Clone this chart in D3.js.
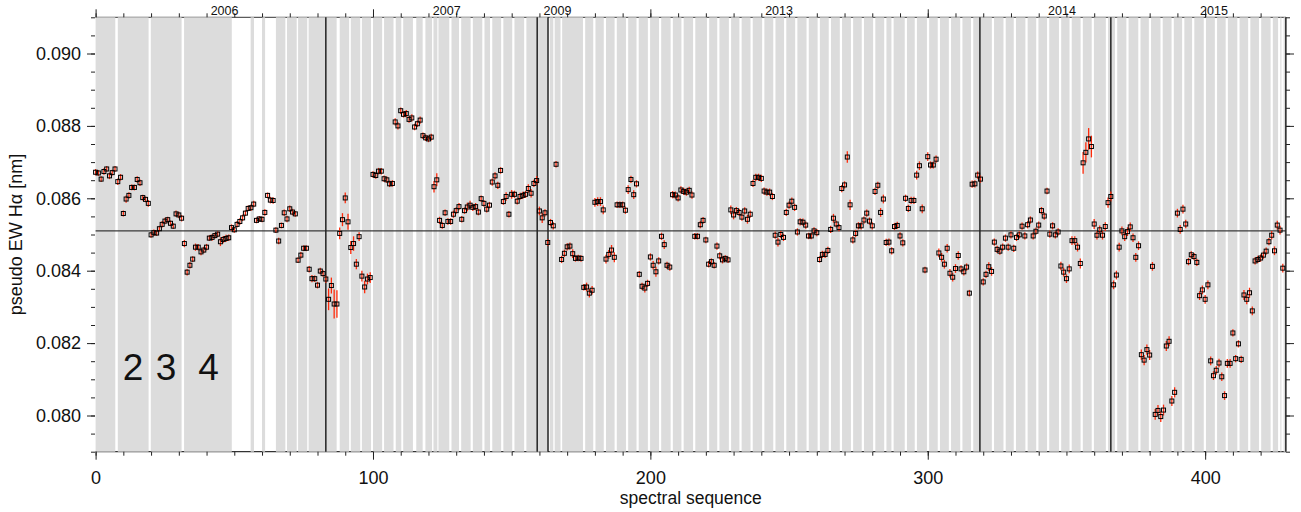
<!DOCTYPE html>
<html><head><meta charset="utf-8">
<script src="https://cdn.jsdelivr.net/npm/d3@7"></script>
<style>
body{margin:0;background:#fff;}
text{font-family:"Liberation Sans",Arial,Helvetica,sans-serif;fill:#111;}
</style></head><body>
<svg id="c" width="1301" height="512"></svg>
<script>
// pseudo equivalent width of H-alpha [nm], one value per spectrum (index = spectral sequence)
const ew = [
0.08672,0.08670,0.08653,0.08674,0.08681,0.08662,0.08671,0.08681,0.08646,0.08658,
0.08558,0.08598,0.08608,0.08630,0.08630,0.08652,0.08643,0.08602,0.08597,0.08586,
0.08499,0.08505,0.08504,0.08516,0.08528,0.08537,0.08541,0.08531,0.08523,0.08557,
0.08554,0.08545,0.08475,0.08396,0.08415,0.08432,0.08465,0.08465,0.08452,0.08457,
0.08465,0.08490,0.08492,0.08497,0.08501,0.08480,0.08486,0.08489,0.08491,0.08519,
0.08513,0.08528,0.08536,0.08546,0.08559,0.08572,0.08574,0.08584,0.08539,0.08543,
0.08542,0.08561,0.08608,0.08595,0.08594,0.08512,0.08482,0.08525,0.08560,0.08543,
0.08571,0.08562,0.08557,0.08429,0.08443,0.08462,0.08462,0.08404,0.08378,0.08378,
0.08360,0.08399,0.08392,0.08377,0.08321,0.08359,0.08308,0.08308,0.08503,0.08541,
0.08601,0.08535,0.08464,0.08475,0.08418,0.08494,0.08385,0.08355,0.08377,0.08381,
0.08666,0.08663,0.08675,0.08675,0.08654,0.08651,0.08640,0.08641,0.08811,0.08800,
0.08842,0.08832,0.08834,0.08818,0.08822,0.08797,0.08806,0.08816,0.08773,0.08767,
0.08764,0.08769,0.08632,0.08651,0.08539,0.08525,0.08560,0.08536,0.08536,0.08556,
0.08566,0.08577,0.08542,0.08566,0.08576,0.08581,0.08575,0.08577,0.08562,0.08599,
0.08586,0.08570,0.08581,0.08645,0.08662,0.08636,0.08677,0.08591,0.08605,0.08556,
0.08611,0.08611,0.08592,0.08605,0.08608,0.08611,0.08627,0.08614,0.08641,0.08649,
0.08565,0.08546,0.08560,0.08478,0.08533,0.08524,0.08694,null,0.08431,0.08448,
0.08466,0.08468,0.08447,0.08434,0.08435,0.08434,0.08354,0.08355,0.08338,0.08346,
0.08589,0.08591,0.08591,0.08568,0.08432,0.08445,0.08457,0.08437,0.08582,0.08582,
0.08582,0.08567,0.08624,0.08652,0.08610,0.08640,0.08390,0.08357,0.08352,0.08365,
0.08438,0.08415,0.08397,0.08427,0.08495,0.08472,0.08415,0.08410,0.08610,0.08609,
0.08601,0.08623,0.08619,0.08617,0.08622,0.08609,0.08495,0.08495,0.08527,0.08539,
0.08485,0.08418,0.08425,0.08415,0.08468,0.08441,0.08430,0.08434,0.08430,0.08568,
0.08554,0.08566,0.08561,0.08548,0.08565,0.08542,0.08556,0.08641,0.08658,0.08658,
0.08655,0.08620,0.08617,0.08617,0.08605,0.08498,0.08479,0.08500,0.08492,0.08561,
0.08581,0.08592,0.08575,0.08507,0.08535,0.08534,0.08526,0.08496,0.08496,0.08510,
0.08505,0.08431,0.08445,0.08445,0.08456,0.08514,0.08545,0.08529,0.08519,0.08627,
0.08637,0.08714,0.08582,0.08485,0.08503,0.08524,0.08524,0.08540,0.08559,0.08537,
0.08524,0.08619,0.08636,0.08561,0.08598,0.08478,0.08479,0.08455,0.08522,0.08525,
0.08496,0.08477,0.08600,0.08572,0.08594,0.08594,0.08664,0.08690,0.08571,0.08402,
0.08715,0.08692,0.08692,0.08708,0.08449,0.08437,0.08418,0.08462,0.08393,0.08382,
0.08406,0.08442,0.08405,0.08397,0.08410,0.08338,0.08639,0.08640,0.08664,0.08653,
0.08369,0.08390,0.08411,0.08398,0.08479,0.08459,0.08454,0.08465,0.08490,0.08465,
0.08499,0.08462,0.08492,0.08499,0.08523,0.08496,0.08527,0.08540,0.08496,0.08509,
0.08526,0.08566,0.08551,0.08620,0.08501,0.08524,0.08499,0.08507,0.08413,0.08396,
0.08378,0.08405,0.08483,0.08483,0.08465,0.08420,0.08698,0.08727,0.08764,0.08743,
0.08529,0.08498,0.08513,0.08498,0.08522,0.08588,0.08605,0.08361,0.08388,0.08465,
0.08510,0.08494,0.08508,0.08521,0.08491,0.08437,0.08469,0.08168,0.08153,0.08182,
0.08167,0.08412,0.08003,0.08014,0.07997,0.08015,0.08192,0.08205,0.08040,0.08064,
0.08559,0.08514,0.08570,0.08529,0.08425,0.08444,0.08439,0.08423,0.08331,0.08347,
0.08321,0.08361,0.08151,0.08110,0.08125,0.08145,0.08107,0.08055,0.08144,0.08144,
0.08228,0.08157,0.08198,0.08155,0.08333,0.08321,0.08339,0.08289,0.08427,0.08431,
0.08435,0.08443,0.08454,0.08480,0.08498,0.08455,0.08526,0.08512,0.08407
];
// 1-sigma uncertainties, in units of 1e-5 nm
const ewErr = [
9,8,8,9,8,9,8,8,9,9, 8,10,9,8,8,9,9,8,8,9, 8,9,8,8,9,9,8,8,8,9, 9,9,10,9,9,8,10,9,9,9,
9,8,9,8,8,12,10,10,9,9, 8,9,9,9,8,8,9,9,8,8, 8,9,8,9,9,8,9,8,9,9, 9,9,8,8,9,8,8,9,10,9,
9,9,9,10,30,22,40,38,16,18, 15,22,18,20,14,12,15,17,15,15, 9,9,9,9,9,9,9,9,10,10, 9,9,10,9,10,9,9,10,9,9,
9,9,16,18,10,9,9,9,9,10, 9,10,9,9,12,12,10,10,9,9, 9,9,9,10,10,10,9,9,12,9, 12,10,9,10,10,10,12,12,10,12,
12,14,10,9,10,10,9,0,10,10, 10,10,12,9,9,9,9,12,12,12, 12,12,12,12,12,12,14,14,9,9, 9,10,12,10,12,10,9,10,12,10,
10,12,14,10,10,12,10,10,10,10, 10,10,10,10,10,10,9,9,10,9, 9,9,9,9,10,10,10,9,9,12, 12,10,10,10,10,12,10,10,10,10,
10,10,10,10,10,10,12,10,10,10, 10,10,10,10,10,10,10,9,9,10, 10,9,10,10,10,10,12,10,10,10, 10,16,14,10,10,10,10,10,10,10,
10,10,10,12,12,10,10,10,10,10, 10,10,10,10,10,10,12,12,12,9, 12,10,10,10,12,12,12,12,12,12, 12,12,10,10,10,9,10,10,10,10,
10,10,12,12,10,10,10,10,10,10, 10,10,10,10,10,10,10,10,10,10, 10,10,10,9,10,10,10,10,12,12, 12,12,12,12,12,14,30,28,30,30,
14,12,12,12,12,14,14,12,12,12, 12,12,12,12,12,12,12,14,14,14, 14,12,15,15,15,15,14,14,14,14, 12,12,12,12,10,10,10,10,12,12,
12,12,12,12,12,12,12,12,12,12, 10,10,10,10,14,14,14,12,10,10, 10,10,10,10,12,12,12,12,12
];
// observing-block shading (start, end) in spectral-sequence units
const bands = [
[0,7.1],[8.0,19.1],[19.9,31.0],[31.9,49.1],[55.9,57.1],[60.0,61.1],[65.0,68.4],[69.0,72.5],[73.0,76.3],[76.8,83.0],
[83.0,86.9],[88.0,91.4],[92.0,95.4],[96.0,99.3],[100.0,103.3],[104.0,107.4],[108.2,110.2],[110.9,114.4],[115.6,117.9],[118.9,121.3],
[121.8,123.2],[123.6,127.5],[128.3,131.0],[131.8,135.2],[136.0,139.4],[140.2,142.2],[143.0,146.2],[147.0,150.2],[151.0,154.5],[155.3,159.2],
[159.2,163.1],[163.7,165.0],[165.5,167.6],[168.2,175.7],[176.5,179.4],[180.2,183.2],[184.0,187.1],[187.9,191.2],[192.0,195.0],[195.8,199.1],
[199.9,203.1],[203.9,207.3],[208.1,211.2],[212.0,215.4],[216.2,220.4],[221.2,224.1],[224.9,228.3],[229.1,232.1],[232.9,236.1],[236.9,240.3],
[241.1,244.3],[245.1,248.2],[249.0,252.2],[253.0,256.3],[257.1,260.3],[261.1,264.3],[265.1,268.3],[269.1,272.3],[273.1,276.2],[277.0,280.3],
[281.1,284.3],[285.1,286.9],[287.7,291.7],[292.5,295.3],[296.1,299.7],[300.5,303.6],[304.4,307.6],[308.4,311.7],[312.5,315.6],[316.4,318.8],
[318.8,323.1],[323.9,327.3],[328.1,331.0],[331.8,335.2],[336.0,339.1],[339.9,343.0],[343.8,347.3],[348.1,351.1],[351.9,355.1],[355.9,359.1],
[359.9,364.2],[365.0,366.0],[366.0,367.5],[368.3,371.6],[372.4,375.9],[376.7,379.7],[380.5,383.9],[384.7,387.9],[388.7,391.7],[392.5,395.3],
[396.1,399.5],[400.3,403.5],[404.3,407.4],[408.2,411.6],[412.4,415.5],[416.3,419.4],[420.2,423.6],[424.4,426.3],[427.1,427.5],[428.3,429.15]
];
const markerLines = [83.0, 159.2, 163.1, 318.8, 366.0, 429.1];
const refLevel = 0.08510;
const years = ["2006","2007","2009","2013","2014","2015"];
const yearPos = [46.5,126.6,166.5,246.4,348.4,403.2];
const groupLabels = ["2","3","4"];
const groupPos = [13.5,25.4,40.7];
const groupLevel = 0.08098;
const xMajor = [0,100,200,300,400];
const yMajor = [0.080,0.082,0.084,0.086,0.088,0.090];

const svg = d3.select("#c");
const L=95.6, R=1286, T=17.3, B=451.7;
const x = d3.scaleLinear().domain([0,429.15]).range([L,R]);
const y = d3.scaleLinear().domain([0.0790,0.0910]).range([B,T]);

// frame lines (under shading)
svg.append("line").attr("x1",L).attr("x2",R).attr("y1",T).attr("y2",T).attr("stroke","#333").attr("stroke-width",1);
svg.append("line").attr("x1",L).attr("x2",R).attr("y1",B).attr("y2",B).attr("stroke","#333").attr("stroke-width",1.2);

// shading
svg.append("g").selectAll("rect").data(bands).join("rect")
  .attr("x",d=>x(d[0])).attr("width",d=>Math.max(0,x(d[1])-x(d[0])))
  .attr("y",T).attr("height",B-T).attr("fill","#dcdcdc");

// reference level
svg.append("line").attr("x1",L).attr("x2",R).attr("y1",y(refLevel)).attr("y2",y(refLevel))
  .attr("stroke","#3a3a3a").attr("stroke-width",1.2);
// vertical separators
svg.append("g").selectAll("line").data(markerLines).join("line")
  .attr("x1",d=>x(d)).attr("x2",d=>x(d)).attr("y1",T).attr("y2",B)
  .attr("stroke","#222").attr("stroke-width",1.5);

// group labels
svg.append("g").selectAll("text").data(groupLabels).join("text")
  .attr("x",(d,i)=>x(groupPos[i])).attr("y",y(groupLevel)).attr("text-anchor","middle")
  .attr("font-size",37).text(d=>d);

// data
const pts = ew.map((v,i)=>({i,v,e:ewErr[i]*1e-5})).filter(d=>d.v!==null);
const gd = svg.append("g");
gd.selectAll("line").data(pts).join("line")
  .attr("x1",d=>x(d.i)).attr("x2",d=>x(d.i))
  .attr("y1",d=>y(d.v-d.e)).attr("y2",d=>y(d.v+d.e))
  .attr("stroke","#ff2a0a").attr("stroke-width",1.3);
const s=4;
gd.selectAll("rect").data(pts).join("rect")
  .attr("x",d=>x(d.i)-s/2).attr("y",d=>y(d.v)-s/2).attr("width",s).attr("height",s)
  .attr("fill","none").attr("stroke","#000").attr("stroke-width",1);

// axes
function style(g){g.select(".domain").remove();g.selectAll("line").attr("stroke","#222");g.selectAll("text").attr("font-size",18).attr("fill","#111");}
const xMinor = d3.range(0,430,10);
const yMinor = d3.range(0.0790,0.09101,0.0005);
svg.append("g").attr("transform",`translate(0,${B})`).call(d3.axisBottom(x).tickValues(xMinor).tickSize(4).tickFormat("")).call(style);
svg.append("g").attr("transform",`translate(0,${B})`).call(d3.axisBottom(x).tickValues(xMajor).tickSize(8).tickPadding(11.5).tickFormat(d3.format("d"))).call(style);
svg.append("g").attr("transform",`translate(0,${T})`).call(d3.axisTop(x).tickValues(xMinor).tickSize(4).tickFormat("")).call(style);
svg.append("g").attr("transform",`translate(0,${T})`).call(d3.axisTop(x).tickValues(xMajor).tickSize(8).tickFormat("")).call(style);
svg.append("g").attr("transform",`translate(${L-0.6},0)`).call(d3.axisLeft(y).tickValues(yMinor).tickSize(4).tickFormat("")).call(style);
svg.append("g").attr("transform",`translate(${L-0.6},0)`).call(d3.axisLeft(y).tickValues(yMajor).tickSize(8).tickPadding(6).tickFormat(d3.format(".3f"))).call(style);
svg.append("g").attr("transform",`translate(${R},0)`).call(d3.axisRight(y).tickValues(yMinor).tickSize(4).tickFormat("")).call(style);
svg.append("g").attr("transform",`translate(${R},0)`).call(d3.axisRight(y).tickValues(yMajor).tickSize(8).tickFormat("")).call(style);

// year labels on top axis
svg.append("g").selectAll("text").data(years).join("text")
  .attr("x",(d,i)=>x(yearPos[i])).attr("y",T-2).attr("text-anchor","middle")
  .attr("font-size",12.5).text(d=>d);

// axis titles
svg.append("text").attr("x",(L+R)/2).attr("y",504).attr("text-anchor","middle").attr("font-size",17.5).text("spectral sequence");
svg.append("text").attr("transform",`translate(21.5,${(T+B)/2}) rotate(-90)`).attr("text-anchor","middle").attr("font-size",18).text("pseudo EW Hα [nm]");
</script>
</body></html>
